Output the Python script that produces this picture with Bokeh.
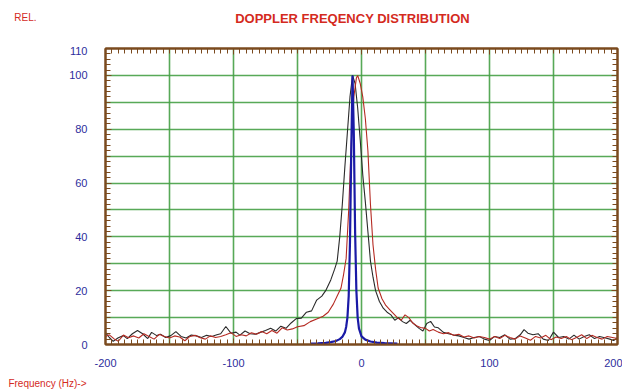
from bokeh.plotting import figure
from bokeh.models import FixedTicker, LinearAxis, Range1d, Label
from bokeh.layouts import column
from bokeh.embed import file_html
from bokeh.resources import INLINE

# ---- data ----
black_f = [-200, -197, -194, -190, -186, -183, -179, -175, -171, -167, -164, -160, -157, -153,
           -149, -145, -141, -137, -133, -129, -125, -121, -117, -113, -110, -106, -102, -98,
           -95, -91, -87, -83, -79, -75, -71, -67, -63, -59, -55, -51, -47, -43, -39, -35,
           -31, -28, -24, -21, -19, -17, -15, -13, -11, -9, -7, -5, -3, -1, 1, 3, 5, 7, 9,
           11, 14, 17, 20, 23, 26, 29, 32, 35, 38, 42, 45, 48, 51, 54, 57, 60, 64, 68, 72,
           76, 80, 84, 88, 92, 96, 100, 104, 108, 112, 116, 120, 124, 127, 130, 134, 138,
           142, 146, 150, 154, 158, 162, 166, 170, 174, 178, 182, 186, 190, 194, 197, 200]
black_v = [4.4, 2.6, 1.2, 2.5, 3.3, 2.2, 4.0, 5.2, 4.0, 2.2, 4.5, 3.3, 3.8, 2.6,
           3.3, 4.8, 3.0, 2.4, 3.5, 3.2, 2.6, 3.4, 3.0, 3.6, 4.0, 6.7, 4.2, 4.6,
           3.5, 5.0, 4.0, 3.8, 4.5, 5.2, 6.0, 5.0, 6.8, 6.0, 8.0, 9.6, 9.8, 12.0, 12.5, 16.5,
           18.0, 20.0, 24.0, 28.0, 31.0, 40.0, 52.0, 66.0, 79.0, 92.0, 100.0, 97.0, 88.0, 76.0, 63.0, 53.0, 42.0, 31.0, 25.0,
           20.0, 16.0, 13.5, 12.0, 11.0, 9.0, 10.0, 8.5, 7.8, 9.0, 7.2, 6.0, 5.0, 7.8, 8.6, 6.5, 6.2, 4.5, 4.0, 3.5,
           3.2, 2.6, 2.0, 2.6, 3.0, 2.0, 1.5, 3.0, 2.6, 3.6, 2.0, 2.2, 3.6, 5.5, 4.2, 3.6, 4.0,
           2.0, 1.5, 4.6, 2.6, 3.0, 2.0, 3.5, 2.0, 3.0, 3.6, 2.2, 3.0, 2.5, 2.0, 1.5, 2.5]

red_f = [-200, -197, -193, -190, -186, -182, -178, -174, -170, -166, -162, -158, -154, -150,
         -146, -142, -138, -134, -130, -126, -122, -118, -114, -110, -106, -102, -98, -94,
         -90, -86, -82, -78, -74, -70, -66, -62, -58, -54, -50, -45, -40, -35, -30, -26,
         -22, -19, -16, -14, -12, -10, -8, -6, -4, -3, -1, 1, 3, 5, 7, 9, 11, 13, 16, 19,
         22, 25, 28, 31, 34, 37, 40, 43, 46, 50, 53, 56, 60, 64, 68, 72, 76, 80, 84, 88,
         92, 96, 100, 104, 108, 112, 116, 120, 124, 128, 132, 136, 140, 144, 148, 152, 156,
         160, 164, 168, 172, 176, 180, 184, 188, 192, 196, 200]
red_v = [3.0, 3.6, 2.0, 1.2, 3.5, 2.5, 3.2, 2.4, 4.0, 3.0, 2.0, 3.8, 3.0, 2.4,
         3.2, 2.8, 1.4, 3.0, 3.4, 2.5, 2.0, 3.2, 2.6, 3.0, 3.6, 4.4, 3.0, 3.6,
         3.2, 4.4, 3.8, 4.8, 4.0, 5.2, 4.2, 6.2, 5.4, 5.8, 6.6, 7.0, 8.5, 9.5, 10.5, 12.0,
         15.0, 18.0, 21.0, 26.0, 32.0, 50.0, 75.0, 92.0, 99.0, 100.0, 97.0, 92.0, 84.0, 72.0, 52.0, 37.0, 28.0, 21.0, 17.0, 14.5,
         13.0, 11.5, 10.0, 9.0, 11.0, 10.0, 8.0, 7.0, 6.3, 6.0, 5.0, 5.6, 4.6, 4.0, 4.4, 3.4, 3.8, 2.8, 3.2, 2.4,
         3.0, 2.6, 2.0, 3.0, 2.2, 3.4, 2.6, 2.0, 3.2, 2.4, 1.6, 3.0, 2.4, 3.4, 1.8, 2.8, 2.2,
         3.0, 1.8, 2.6, 3.6, 2.2, 3.4, 2.6, 2.0, 3.0, 2.6, 2.2]

blue_f = [-40, -34, -28, -24, -20, -17, -15, -13, -12, -11, -10, -9, -8, -7, -6, -5, -4, -3,
          -2, 0, 3, 7, 12, 18, 23, 28]
blue_v = [0.3, 0.4, 0.6, 0.9, 1.3, 2.0, 2.8, 4.5, 6.5, 10.0, 18.0, 38.0, 72.0, 100.0, 78.0,
          42.0, 20.0, 10.0, 6.0, 3.0, 1.8, 1.1, 0.7, 0.5, 0.4, 0.3]

x_ticks = [-200, -100, 0, 100, 200]
x_tick_labels = ["-200", "-100", "0", "100", "200"]
y_ticks = [0, 20, 40, 60, 80, 100, 110]

title_text = "DOPPLER FREQENCY DISTRIBUTION"
ylabel_text = "REL."
xlabel_text = "Frequency (Hz)->"

# ---- styling ----
RED = "#d42a1e"
BLUE = "#2d2d9c"
BROWN = "#7b4a1e"
GREEN = "#46a046"
FONT = "Liberation Sans"
W = 622
LEFT, RIGHT = 105, 5
HEAD_H, FOOT_H = 46, 14
MAIN_H = 390 - HEAD_H - FOOT_H


def text_strip(h, side_text, text_y, text_right_edge):
    # frame spans canvas x LEFT..W-RIGHT, so data x == canvas x; data y == canvas y
    f = figure(width=W, height=h, output_backend="svg", toolbar_location=None,
               x_range=Range1d(LEFT, W - RIGHT), y_range=Range1d(h, 0),
               min_border_left=LEFT, min_border_right=RIGHT, min_border_top=0, min_border_bottom=0,
               x_axis_location=None, y_axis_location=None)
    f.xgrid.visible = False
    f.ygrid.visible = False
    f.outline_line_color = None
    f.background_fill_color = "white"
    f.border_fill_color = "white"
    # side text drawn as the single label of an invisible left axis
    ax = LinearAxis(ticker=FixedTicker(ticks=[text_y]),
                    major_label_overrides={text_y: side_text})
    ax.axis_line_color = None
    ax.major_tick_line_color = None
    ax.minor_tick_line_color = None
    ax.major_tick_out = 0
    ax.major_tick_in = 0
    ax.major_label_standoff = LEFT - text_right_edge
    ax.major_label_text_font = FONT
    ax.major_label_text_font_size = "10px"
    ax.major_label_text_color = RED
    f.add_layout(ax, "left")
    return f


head = text_strip(HEAD_H, ylabel_text, 17, 36)
head.add_layout(Label(x=352, y=18, text=title_text, text_font=FONT, text_font_size="13px",
                      text_font_style="bold", text_color=RED, text_align="center",
                      text_baseline="middle"))

foot = text_strip(FOOT_H, xlabel_text, 7, 86)

p = figure(width=W, height=MAIN_H, output_backend="svg", toolbar_location=None,
           x_range=Range1d(-200, 200), y_range=Range1d(0, 110),
           min_border_left=LEFT, min_border_right=RIGHT, min_border_top=2,
           min_border_bottom=MAIN_H - 2 - 296,
           x_axis_location=None, y_axis_location=None)
p.background_fill_color = "white"
p.border_fill_color = "white"
p.outline_line_color = BROWN
p.outline_line_width = 2


def style_axis(ax, ticks, minor, show_labels, standoff):
    ax.ticker = FixedTicker(ticks=ticks, minor_ticks=minor)
    ax.axis_line_color = BROWN
    ax.axis_line_width = 2
    ax.major_tick_in = 6
    ax.major_tick_out = 0
    ax.minor_tick_in = 5
    ax.minor_tick_out = 0
    ax.major_tick_line_color = BROWN
    ax.minor_tick_line_color = BROWN
    ax.major_tick_line_width = 1
    ax.minor_tick_line_width = 1
    ax.major_label_standoff = standoff
    ax.major_label_text_font = FONT
    ax.major_label_text_font_size = "11px"
    ax.major_label_text_color = BLUE
    if not show_labels:
        ax.major_label_text_alpha = 0
        ax.major_label_text_font_size = "1px"


xminor = list(range(-200, 201, 5))
yminor = list(range(0, 111, 2))

bx = LinearAxis()
style_axis(bx, x_ticks, xminor, True, 14)
bx.major_label_overrides = dict(zip(x_ticks, x_tick_labels))
p.add_layout(bx, "below")
tx = LinearAxis()
style_axis(tx, x_ticks, xminor, False, 0)
p.add_layout(tx, "above")
ly = LinearAxis()
style_axis(ly, y_ticks, yminor, True, 18)
p.add_layout(ly, "left")
ry = LinearAxis()
style_axis(ry, y_ticks, yminor, False, 0)
p.add_layout(ry, "right")

p.xgrid.ticker = FixedTicker(ticks=list(range(-200, 201, 50)))
p.ygrid.ticker = FixedTicker(ticks=list(range(0, 111, 10)))
for g in (p.xgrid, p.ygrid):
    g.grid_line_color = GREEN
    g.grid_line_width = 1.6
    g.grid_line_alpha = 0.9

p.line(black_f, black_v, line_color="#2a2a2a", line_width=1.1)
p.line(red_f, red_v, line_color="#b52a22", line_width=1.1)
p.line(blue_f, blue_v, line_color="#1a1aa6", line_width=2.2)

layout = column(head, p, foot, spacing=0)
open("out.html", "w").write(file_html(layout, INLINE))
